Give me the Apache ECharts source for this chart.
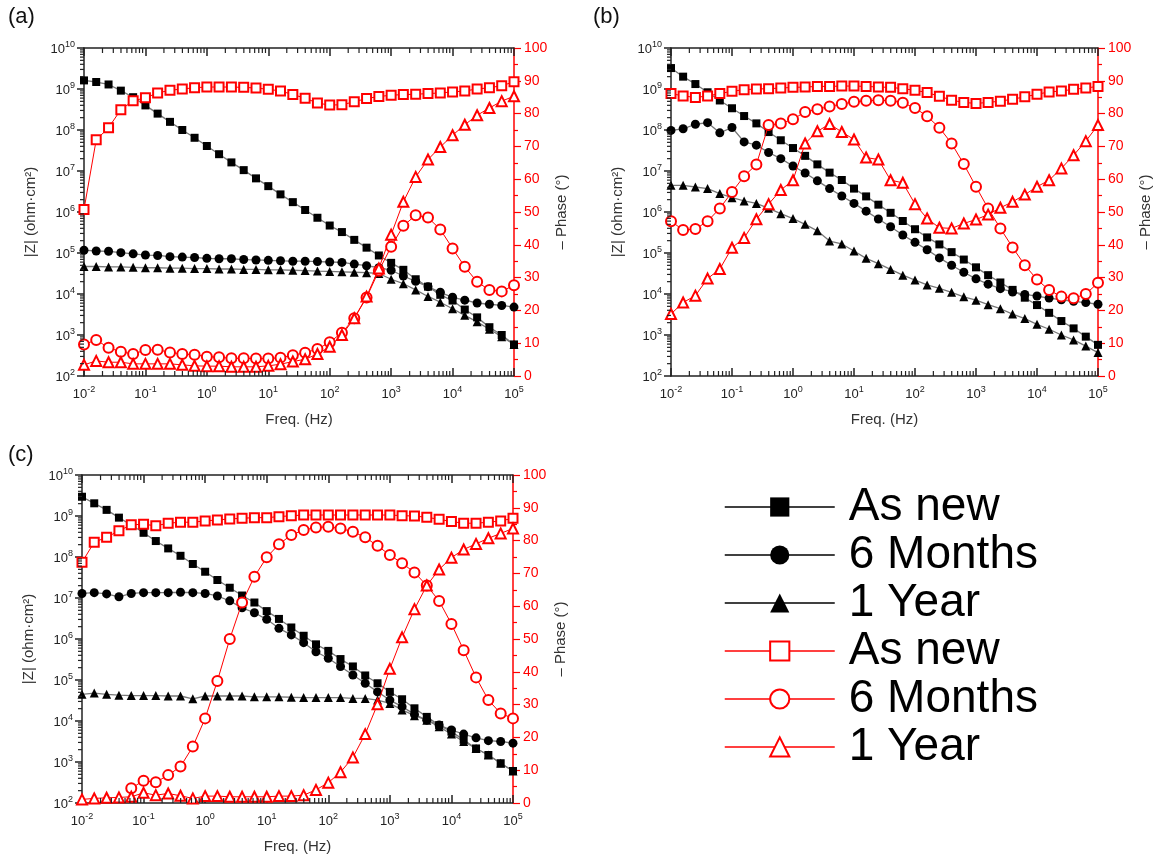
<!DOCTYPE html>
<html><head><meta charset="utf-8">
<script src="https://cdn.jsdelivr.net/npm/echarts@6/dist/echarts.min.js"></script>
<style>html,body{margin:0;padding:0;background:#fff}#c{width:1158px;height:861px}</style>
</head><body><div id="c"></div>
<script>
// Frequencies (Hz), 5 points per decade
const freq = [0.01,0.0158,0.0251,0.0398,0.0631,0.1,0.158,0.251,0.398,0.631,1,1.58,2.51,3.98,6.31,10,15.8,25.1,39.8,63.1,100,158,251,398,631,1000,1580,2510,3980,6310,10000,15800,25100,39800,63100,100000];
const panelLabels = ['(a)','(b)','(c)'];
const legendLabels = ['As new','6 Months','1 Year','As new','6 Months','1 Year'];

// Panel (a) |Z| (ohm·cm²)
const aZnew = [1.62e9,1.48e9,1.29e9,9.12e8,6.31e8,3.98e8,2.51e8,1.58e8,1.00e8,6.46e7,4.07e7,2.57e7,1.62e7,1.05e7,6.61e6,4.27e6,2.69e6,1.74e6,1.12e6,7.24e5,4.68e5,3.24e5,2.09e5,1.35e5,8.71e4,5.75e4,3.89e4,2.29e4,1.51e4,9.55e3,6.92e3,4.17e3,2.69e3,1.55e3,1.00e3,5.89e2];
const aZ6m = [1.17e5,1.12e5,1.10e5,1.02e5,9.55e4,8.91e4,8.71e4,8.13e4,7.94e4,7.76e4,7.41e4,7.24e4,7.24e4,6.92e4,6.76e4,6.61e4,6.46e4,6.31e4,6.31e4,6.17e4,6.03e4,5.89e4,5.37e4,4.90e4,4.37e4,3.80e4,2.75e4,2.04e4,1.51e4,1.10e4,8.32e3,7.08e3,6.03e3,5.62e3,5.25e3,4.79e3];
const aZ1y = [4.68e4,4.68e4,4.57e4,4.57e4,4.47e4,4.37e4,4.37e4,4.27e4,4.27e4,4.17e4,4.17e4,4.07e4,4.07e4,3.98e4,3.98e4,3.89e4,3.89e4,3.80e4,3.72e4,3.63e4,3.55e4,3.47e4,3.39e4,3.31e4,3.16e4,2.29e4,1.78e4,1.26e4,8.71e3,6.31e3,4.37e3,3.02e3,2.09e3,1.38e3,9.12e2,5.89e2];
// Panel (a) -Phase (deg)
const aPnew = [50.8,72.0,75.7,81.2,83.9,84.8,86.3,87.1,87.5,87.9,88.1,88.1,88.1,88.0,87.8,87.4,86.9,85.8,84.7,83.2,82.6,82.7,83.6,84.6,85.2,85.6,85.8,85.9,86.1,86.3,86.6,86.9,87.5,87.9,88.5,89.7];
const aP6m = [9.6,11.0,8.6,7.4,6.7,7.9,8.0,7.2,6.7,6.5,5.9,5.7,5.4,5.4,5.3,5.3,5.6,6.3,7.1,8.2,10.3,13.2,17.6,23.9,32.1,39.4,45.8,49.0,48.3,44.7,38.9,33.3,28.7,26.2,25.8,27.7];
const aP1y = [3.4,4.6,4.2,4.2,3.7,3.7,3.7,3.7,3.4,3.1,3.0,3.0,2.8,2.8,2.8,3.1,3.6,4.4,5.1,6.7,8.9,12.5,17.6,24.2,32.8,43.1,53.1,60.7,66.0,69.8,73.4,76.6,79.5,81.7,83.8,85.3];

// Panel (b)
const bZnew = [3.24e9,2.00e9,1.32e9,8.32e8,5.25e8,3.39e8,2.19e8,1.45e8,8.91e7,5.62e7,3.63e7,2.34e7,1.45e7,9.12e6,6.03e6,3.72e6,2.40e6,1.51e6,9.55e5,6.03e5,3.80e5,2.40e5,1.62e5,1.05e5,6.92e4,4.47e4,2.88e4,1.91e4,1.26e4,8.13e3,5.37e3,3.47e3,2.19e3,1.45e3,9.12e2,5.75e2];
const bZ6m = [9.77e7,1.07e8,1.38e8,1.51e8,8.51e7,1.15e8,5.13e7,4.27e7,2.82e7,2.00e7,1.32e7,8.91e6,5.75e6,3.72e6,2.45e6,1.62e6,1.05e6,6.76e5,4.37e5,2.75e5,1.82e5,1.20e5,7.59e4,5.01e4,3.39e4,2.34e4,1.74e4,1.35e4,1.12e4,9.77e3,8.91e3,7.94e3,7.24e3,6.61e3,6.17e3,5.62e3];
const bZ1y = [4.47e6,4.47e6,4.07e6,3.72e6,2.82e6,2.24e6,1.86e6,1.62e6,1.23e6,9.12e5,6.92e5,5.01e5,3.47e5,1.95e5,1.66e5,1.12e5,7.41e4,5.50e4,3.98e4,2.88e4,2.19e4,1.66e4,1.38e4,1.10e4,8.51e3,7.08e3,5.50e3,4.37e3,3.24e3,2.51e3,1.82e3,1.38e3,1.00e3,7.59e2,5.37e2,3.72e2];
const bPnew = [86.1,85.4,84.9,85.4,86.1,86.8,87.3,87.5,87.6,87.8,88.0,88.1,88.3,88.3,88.4,88.4,88.3,88.1,88.0,87.6,87.1,86.4,85.3,84.1,83.4,83.1,83.4,83.8,84.4,85.1,85.9,86.6,86.9,87.4,87.8,88.3];
const bP6m = [47.2,44.5,44.8,47.2,51.1,56.1,60.9,64.5,76.5,77.0,78.3,80.5,81.3,82.2,82.9,83.6,83.9,84.1,83.9,83.3,81.7,79.2,75.7,70.9,64.6,57.7,51.1,45.0,39.2,33.8,29.4,26.2,24.2,23.7,25.0,28.4];
const bP1y = [18.9,22.4,24.5,29.7,32.6,39.1,42.1,47.8,52.4,56.7,59.7,70.9,74.6,76.8,74.4,72.1,66.6,66.0,59.7,58.9,52.4,48.0,45.2,45.0,46.5,47.7,49.2,51.3,53.1,55.3,57.7,59.7,63.3,67.3,71.6,76.5];

// Panel (c)
const cZnew = [2.95e9,2.04e9,1.41e9,9.12e8,6.03e8,3.89e8,2.45e8,1.62e8,1.07e8,6.76e7,4.37e7,2.75e7,1.78e7,1.15e7,7.76e6,4.79e6,3.09e6,1.91e6,1.20e6,7.41e5,5.13e5,3.24e5,2.14e5,1.29e5,8.32e4,5.13e4,3.39e4,2.04e4,1.26e4,7.94e3,5.50e3,3.47e3,2.14e3,1.48e3,9.33e2,6.03e2];
const cZ6m = [1.29e7,1.35e7,1.26e7,1.07e7,1.29e7,1.35e7,1.35e7,1.35e7,1.38e7,1.35e7,1.29e7,1.12e7,8.51e6,5.75e6,4.37e6,3.02e6,1.82e6,1.26e6,8.13e5,4.90e5,3.39e5,2.14e5,1.32e5,8.32e4,5.13e4,3.24e4,2.24e4,1.45e4,1.05e4,7.94e3,6.03e3,4.79e3,3.89e3,3.31e3,3.16e3,2.88e3];
const cZ1y = [4.47e4,4.79e4,4.47e4,4.27e4,4.17e4,4.17e4,4.17e4,4.07e4,4.07e4,3.47e4,4.07e4,4.07e4,4.07e4,4.07e4,3.89e4,3.89e4,3.89e4,3.80e4,3.72e4,3.72e4,3.72e4,3.72e4,3.55e4,3.55e4,3.24e4,2.69e4,1.86e4,1.35e4,1.05e4,7.24e3,4.79e3,3.16e3,2.14e3,1.48e3,9.33e2,6.03e2];
const cPnew = [73.4,79.5,81.0,83.0,84.8,85.0,84.5,85.3,85.6,85.6,86.0,86.3,86.6,86.8,87.0,87.0,87.3,87.6,87.8,87.8,87.8,87.8,87.8,87.8,87.8,87.8,87.6,87.5,87.1,86.5,85.8,85.3,85.3,85.6,86.0,86.8];
const cP6m = [null,null,null,null,4.5,6.8,6.3,8.5,11.1,17.2,25.8,37.2,50.0,61.1,69.0,74.9,78.9,81.7,83.2,84.0,84.2,83.7,82.7,81.0,78.4,75.6,73.1,70.3,66.3,61.6,54.6,46.6,38.3,31.4,27.3,25.8];
const cP1y = [1.1,1.4,1.6,1.7,1.9,3.1,2.4,2.9,2.2,1.4,2.1,2.1,1.9,1.9,1.9,1.9,2.1,2.1,2.4,4.0,6.2,9.4,13.9,21.0,30.1,40.9,50.5,59.1,66.3,71.2,74.8,77.3,79.0,80.7,82.2,83.7];

// Log-axis minor tick multipliers and decade ranges
const minorMult = [2,3,4,5,6,7,8,9];
const xDecades = [-2,-1,0,1,2,3,4];
const yDecades = [2,3,4,5,6,7,8,9];

const panels = [
  {z:[aZnew,aZ6m,aZ1y], p:[aPnew,aP6m,aP1y]},
  {z:[bZnew,bZ6m,bZ1y], p:[bPnew,bP6m,bP1y]},
  {z:[cZnew,cZ6m,cZ1y], p:[cPnew,cP6m,cP1y]}
];

const grids = [
  {left:84, top:48, width:430, height:328},
  {left:671, top:48, width:427, height:328},
  {left:82, top:475, width:431, height:328}
];
const titlePos = [{left:8,top:6},{left:593,top:6},{left:8,top:444}];

const FONT = 'Liberation Sans';
const RED = '#ff0000';
const AX = '#222';
const supRich = {
  b: {fontSize: 13, fontFamily: FONT, color: AX, lineHeight: 16, verticalAlign: 'bottom'},
  s: {fontSize: 9, fontFamily: FONT, color: AX, lineHeight: 16, verticalAlign: 'top'}
};
const pow10 = v => '{b|10}{s|' + Math.round(Math.log10(v)) + '}';

const xMinorVals = [], yMinorVals = [];
xDecades.forEach(d => minorMult.forEach(m => xMinorVals.push(m * Math.pow(10, d))));
yDecades.forEach(d => minorMult.forEach(m => yMinorVals.push(m * Math.pow(10, d))));

const xAxis = [], yAxis = [], series = [];
const zNames = ['Z_new','Z_6m','Z_1y'];
const pNames = ['P_new','P_6m','P_1y'];
const zSym = ['rect','circle','triangle'];
const pSym = ['emptyRect','emptyCircle','emptyTriangle'];
const zSize = [8,9,9];
const pSize = [9,10,10];

grids.forEach((g, gi) => {
  xAxis.push({
    type:'log', logBase:10, min:0.01, max:100000, gridIndex:gi, position:'bottom',
    name:'Freq. (Hz)', nameLocation:'middle', nameGap:36,
    nameTextStyle:{fontSize:15, fontFamily:FONT, color:'#333'},
    axisLine:{show:true, lineStyle:{color:AX, width:1.5}},
    axisTick:{show:true, inside:true, length:8, lineStyle:{color:AX, width:1.5}},
    minorTick:{show:false}, splitLine:{show:false},
    axisLabel:{formatter: pow10, rich: supRich, margin:9}
  });
  xAxis.push({
    type:'log', logBase:10, min:0.01, max:100000, gridIndex:gi, position:'top',
    axisLine:{show:true, lineStyle:{color:AX, width:1.5}},
    axisTick:{show:true, inside:true, length:8, lineStyle:{color:AX, width:1.5}},
    minorTick:{show:false}, splitLine:{show:false}, axisLabel:{show:false}
  });
  yAxis.push({
    type:'log', logBase:10, min:100, max:1e10, gridIndex:gi, position:'left',
    name:'|Z| (ohm·cm²)', nameLocation:'middle', nameGap:46, nameRotate:90,
    nameTextStyle:{fontSize:15, fontFamily:FONT, color:'#333'},
    axisLine:{show:true, lineStyle:{color:AX, width:1.5}},
    axisTick:{show:true, inside:false, length:7, lineStyle:{color:AX, width:1.5}},
    minorTick:{show:false}, splitLine:{show:false},
    axisLabel:{formatter: pow10, rich: supRich, margin:9}
  });
  yAxis.push({
    type:'value', min:0, max:100, interval:10, gridIndex:gi, position:'right',
    name:'– Phase (°)', nameLocation:'middle', nameGap:40, nameRotate:90,
    nameTextStyle:{fontSize:15, fontFamily:FONT, color:'#333'},
    axisLine:{show:true, lineStyle:{color:RED, width:1.5}},
    axisTick:{show:true, inside:false, length:7, lineStyle:{color:RED, width:1.2}},
    minorTick:{show:true, splitNumber:2, length:4, lineStyle:{color:RED, width:1.2}},
    splitLine:{show:false}, minorSplitLine:{show:false},
    axisLabel:{color:RED, fontSize:14, fontFamily:FONT, margin:10}
  });
  // minor log ticks on the frame, placed through the axes' own scales
  series.push({
    type:'custom', xAxisIndex:2*gi, yAxisIndex:2*gi, silent:true, clip:false, z:5,
    data: xMinorVals.map(v => [v, 100]),
    encode:{x:0, y:1},
    renderItem: function (params, api) {
      const b = api.coord([api.value(0), 100]);
      const t = api.coord([api.value(0), 1e10]);
      return {type:'group', children:[
        {type:'line', shape:{x1:b[0], y1:b[1], x2:b[0], y2:b[1]-5}, style:{stroke:AX, lineWidth:1.2}},
        {type:'line', shape:{x1:t[0], y1:t[1], x2:t[0], y2:t[1]+5}, style:{stroke:AX, lineWidth:1.2}}
      ]};
    },
    animation:false
  });
  series.push({
    type:'custom', xAxisIndex:2*gi, yAxisIndex:2*gi, silent:true, clip:false, z:5,
    data: yMinorVals.map(v => [0.01, v]),
    encode:{x:0, y:1},
    renderItem: function (params, api) {
      const l = api.coord([0.01, api.value(1)]);
      return {type:'line', shape:{x1:l[0], y1:l[1], x2:l[0]-4, y2:l[1]}, style:{stroke:AX, lineWidth:1.2}};
    },
    animation:false
  });
  const p = panels[gi];
  for (let s = 0; s < 3; s++) {
    series.push({
      type:'line', name:zNames[s], xAxisIndex:2*gi, yAxisIndex:2*gi,
      data: freq.map((f,i)=>[f, p.z[s][i]]),
      symbol:zSym[s], symbolSize:zSize[s], showAllSymbol:true,
      itemStyle:{color:'#000'}, lineStyle:{color:'#777', width:1.3},
      emphasis:{disabled:true}, animation:false, z:2
    });
  }
  for (let s = 0; s < 3; s++) {
    series.push({
      type:'line', name:pNames[s], xAxisIndex:2*gi, yAxisIndex:2*gi+1,
      data: freq.map((f,i)=>[f, p.p[s][i]]).filter(d => d[1] !== null),
      symbol:pSym[s], symbolSize:pSize[s], showAllSymbol:true,
      itemStyle:{color:RED, borderWidth:1.2}, lineStyle:{color:RED, width:1},
      emphasis:{disabled:true}, animation:false, z:3
    });
  }
});

const legendNames = zNames.concat(pNames);
const option = {
  animation:false,
  backgroundColor:'#fff',
  title: panelLabels.map((t,i)=>({text:t, left:titlePos[i].left, top:titlePos[i].top, padding:0,
    textStyle:{fontSize:22, fontWeight:'normal', fontFamily:FONT, color:'#111'}})),
  grid: grids,
  xAxis, yAxis, series,
  legend: {
    orient:'vertical', left:724, top:484, padding:0,
    itemWidth:110, itemHeight:24, itemGap:2, selectedMode:false,
    data: legendNames.map((n,i)=>({name:n, lineStyle:{color: i<3 ? '#000' : RED, width:1.5}})),
    formatter: n => legendLabels[legendNames.indexOf(n)],
    textStyle:{fontSize:46, fontFamily:FONT, color:'#000', padding:[0,0,0,9], lineHeight:46}
  }
};
const chart = echarts.init(document.getElementById('c'), null, {renderer:'canvas'});
chart.setOption(option);
</script></body></html>
